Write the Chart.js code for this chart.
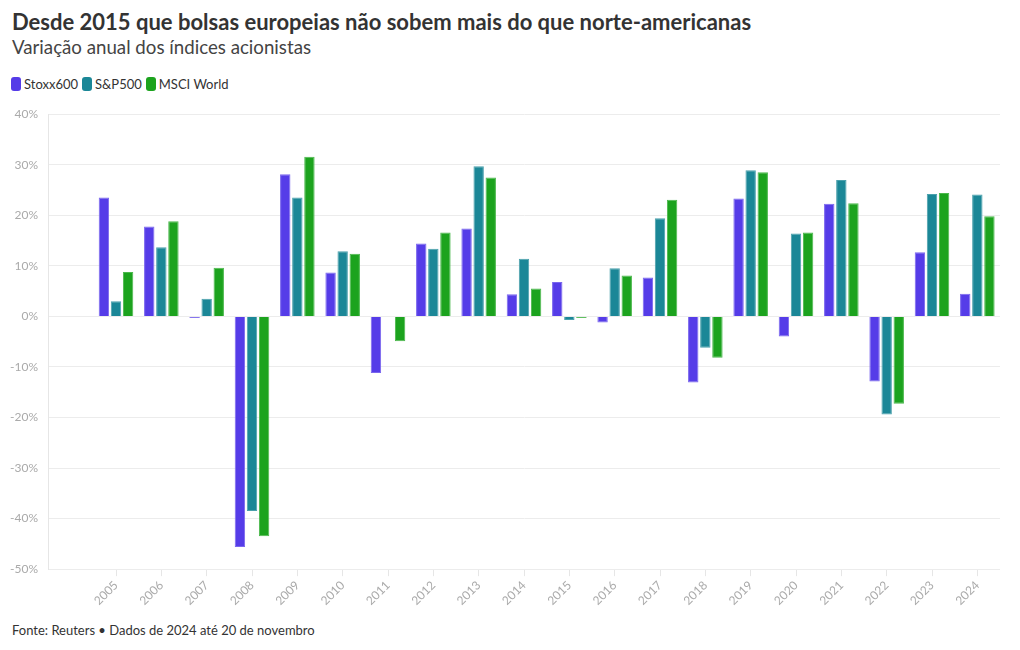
<!DOCTYPE html>
<html>
<head>
<meta charset="utf-8">
<script src="https://cdn.jsdelivr.net/npm/chart.js@4.4.1/dist/chart.umd.min.js"></script>
<style>
  body { margin: 0; background: #fff; font-family: "Lato", sans-serif; color: #333; }
  #wrap { position: relative; width: 1020px; height: 650px; overflow: hidden; }
  h1 { position: absolute; left: 12px; top: 8px; margin: 0; font-size: 22px; font-weight: 700; color: #333; }
  h2 { position: absolute; left: 12px; top: 36px; margin: 0; font-size: 18.7px; font-weight: 400; color: #444; }
  #legend { position: absolute; left: 11px; top: 76px; font-size: 13px; color: #333; display: flex; }
  #legend span { display: flex; align-items: center; margin-right: 4px; }
  #legend i { display: inline-block; width: 10px; height: 14px; border-radius: 3px; margin-right: 3px; }
  #box { position: absolute; left: 0; top: 97px; width: 1020px; height: 513px; }
  #foot { position: absolute; left: 12px; top: 622px; font-size: 13px; color: #333; }
</style>
</head>
<body>
<div id="wrap">
  <h1>Desde 2015 que bolsas europeias não sobem mais do que norte-americanas</h1>
  <h2>Variação anual dos índices acionistas</h2>
  <div id="legend"></div>
  <div id="box"><canvas id="myChart"></canvas></div>
  <div id="foot">Fonte: Reuters • Dados de 2024 até 20 de novembro</div>
</div>
<script>
// first category is empty, as in the original
const years = ["", "2005", "2006", "2007", "2008", "2009", "2010", "2011", "2012", "2013", "2014",
  "2015", "2016", "2017", "2018", "2019", "2020", "2021", "2022", "2023", "2024"];
const stoxx600 = [null, 23.5, 17.8, -0.3, -45.6, 28.1, 8.7, -11.2, 14.4, 17.4, 4.4,
  6.8, -1.2, 7.7, -13.1, 23.3, -4.0, 22.3, -12.9, 12.7, 4.5];
const sp500 = [null, 3.0, 13.7, 3.5, -38.5, 23.5, 12.9, 0.0, 13.4, 29.7, 11.4,
  -0.7, 9.5, 19.4, -6.2, 28.9, 16.4, 27.0, -19.4, 24.2, 24.1];
const msciWorld = [null, 8.8, 18.8, 9.6, -43.5, 31.6, 12.4, -4.9, 16.6, 27.5, 5.5,
  -0.3, 8.1, 23.1, -8.2, 28.5, 16.6, 22.4, -17.3, 24.4, 19.8];
const yTicks = [-50, -40, -30, -20, -10, 0, 10, 20, 30, 40];

const series = [
  { label: "Stoxx600", data: stoxx600, color: "#553ce8", border: "#7a66ee" },
  { label: "S&P500", data: sp500, color: "#1b8797", border: "#4aa0ac" },
  { label: "MSCI World", data: msciWorld, color: "#1ca31e", border: "#4bb84c" }
];

const legend = document.getElementById("legend");
series.forEach(s => {
  const el = document.createElement("span");
  el.innerHTML = `<i style="background:${s.color}"></i>${s.label}`;
  legend.appendChild(el);
});

const ctx = document.getElementById("myChart");
new Chart(ctx, {
  type: "bar",
  data: {
    labels: years,
    datasets: series.map(s => ({
      label: s.label,
      data: s.data,
      backgroundColor: s.color,
      borderColor: s.border,
      borderWidth: 1,
      categoryPercentage: 0.8,
      barPercentage: 0.86
    }))
  },
  options: {
    responsive: true,
    maintainAspectRatio: false,
    animation: false,
    layout: { padding: { top: 5, right: 20, left: 0, bottom: 0 } },
    plugins: { legend: { display: false }, tooltip: { enabled: false } },
    scales: {
      x: {
        grid: {
          offset: false, drawOnChartArea: false, drawTicks: true, tickLength: 7,
          color: c => (c.index === 0 ? "rgba(0,0,0,0)" : "#e6e6e6")
        },
        border: { display: false },
        ticks: {
          color: "#aaa", font: { family: "Lato", size: 12 },
          minRotation: 45, maxRotation: 45, padding: 2, autoSkip: false
        }
      },
      y: {
        min: -50, max: 40,
        afterFit: scale => { scale.width = 48; },
        afterBuildTicks: scale => { scale.ticks = yTicks.map(v => ({ value: v })); },
        grid: { color: "#ececec", drawTicks: false },
        border: { display: true, color: "#e6e6e6" },
        ticks: {
          color: "#aaa", font: { family: "Lato", size: 12 }, padding: 10,
          callback: v => v + "%"
        }
      }
    }
  }
});
</script>
</body>
</html>
